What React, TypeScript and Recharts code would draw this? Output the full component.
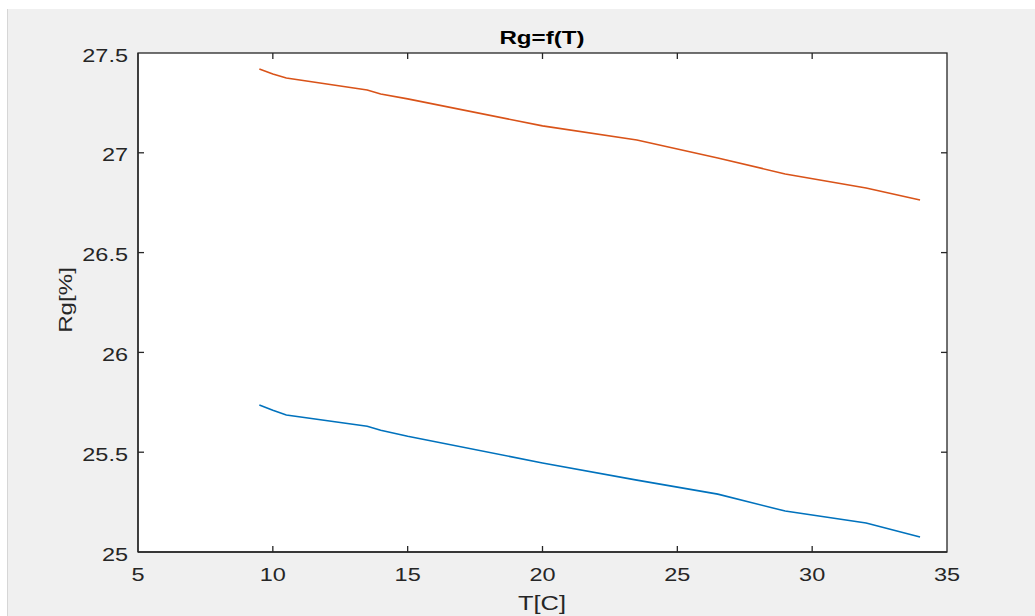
import React from 'react';
import { LineChart, Line, XAxis, YAxis } from 'recharts';

const temps = [9.5, 10, 10.5, 13.5, 14, 15, 20, 23.5, 26.5, 29, 32, 34];
const rgUpper = [27.42, 27.395, 27.375, 27.315, 27.295, 27.27, 27.135, 27.064, 26.974, 26.894, 26.824, 26.764];
const rgLower = [25.736, 25.71, 25.686, 25.63, 25.61, 25.58, 25.446, 25.36, 25.29, 25.205, 25.145, 25.075];
const xTicks = [5, 10, 15, 20, 25, 30, 35];
const yTicks = [25, 25.5, 26, 26.5, 27, 27.5];

const data = temps.map((t, i) => ({ t, upper: rgUpper[i], lower: rgLower[i] }));

const AX = '#262626';
const FONT = '"Liberation Sans", Arial, Helvetica, sans-serif';
const SX = 1.27;
const CW = 1028;
const CH = 607;
const M = { top: 44, right: 89, bottom: 24, left: 70 };
const YW = 60;
const XH = 40;
const PL = M.left + YW;
const PT = M.top;
const PW = CW - PL - M.right;
const PH = CH - PT - M.bottom - XH;
const XM = 16;
const YM = 10;
const TL = 6;
const FS = 18.5;

const XTick = (props: any) => {
  const { x, y, payload } = props;
  const isEdge = payload.value === xTicks[0] || payload.value === xTicks[xTicks.length - 1];
  return (
    <g transform={`translate(${x},${y})`}>
      {!isEdge && <line x1={0} x2={0} y1={-XM} y2={-XM - TL} stroke={AX} strokeWidth={1.3} />}
      {!isEdge && <line x1={0} x2={0} y1={-XM - PH} y2={-XM - PH + TL} stroke={AX} strokeWidth={1.3} />}
      <text transform={`scale(${SX},1)`} textAnchor="middle" dy={13.2} fontSize={FS} fill={AX} fontFamily={FONT}>
        {payload.value}
      </text>
    </g>
  );
};

const YTick = (props: any) => {
  const { x, y, payload } = props;
  const isEdge = payload.value === yTicks[0] || payload.value === yTicks[yTicks.length - 1];
  return (
    <g transform={`translate(${x},${y})`}>
      {!isEdge && <line x1={YM} x2={YM + TL} y1={0} y2={0} stroke={AX} strokeWidth={1.3} />}
      {!isEdge && <line x1={YM + PW} x2={YM + PW - TL} y1={0} y2={0} stroke={AX} strokeWidth={1.3} />}
      <text transform={`scale(${SX},1)`} textAnchor="end" dy={8.6} fontSize={FS} fill={AX} fontFamily={FONT}>
        {payload.value}
      </text>
    </g>
  );
};

export default function App() {
  return (
    <div style={{ position: 'absolute', left: 0, top: 0, width: 1035, height: 616, background: '#ffffff', overflow: 'hidden' }}>
      <div style={{ position: 'absolute', left: 7, top: 9, width: CW, height: CH, background: '#f0f0f0', borderLeft: '1px solid #d6d6d6', boxSizing: 'border-box' }}>
        <LineChart width={CW} height={CH} data={data} margin={M}>
          <rect x={PL} y={PT} width={PW} height={PH} fill="#ffffff" stroke={AX} strokeWidth={1.3} />
          <XAxis xAxisId="x" dataKey="t" type="number" domain={[5, 35]} ticks={xTicks} interval={0} allowDataOverflow
            orientation="bottom" height={XH} tickSize={0} tickMargin={XM} tickLine={false}
            axisLine={{ stroke: AX, strokeWidth: 1.3 }} tick={<XTick />} />
          <YAxis yAxisId="y" type="number" domain={[25, 27.5]} ticks={yTicks} interval={0} allowDataOverflow
            orientation="left" width={YW} tickSize={0} tickMargin={YM} tickLine={false}
            axisLine={{ stroke: AX, strokeWidth: 1.3 }} tick={<YTick />} />
          <Line xAxisId="x" yAxisId="y" dataKey="lower" type="linear" stroke="#0072BD" strokeWidth={1.6} dot={false} isAnimationActive={false} />
          <Line xAxisId="x" yAxisId="y" dataKey="upper" type="linear" stroke="#D95319" strokeWidth={1.6} dot={false} isAnimationActive={false} />
        </LineChart>
      </div>
      <div style={{ position: 'absolute', left: 541.5, top: 37, transform: `translate(-50%,-50%) scaleX(${SX})`, fontFamily: FONT, fontWeight: 'bold', fontSize: 19, color: '#000', whiteSpace: 'nowrap', lineHeight: 1 }}>Rg=f(T)</div>
      <div style={{ position: 'absolute', left: 541.5, top: 603, transform: `translate(-50%,-50%) scaleX(${SX})`, fontFamily: FONT, fontSize: 20, color: AX, whiteSpace: 'nowrap', lineHeight: 1 }}>T[C]</div>
      <div style={{ position: 'absolute', left: 65, top: 300, transform: `translate(-50%,-50%) rotate(-90deg) scaleX(${SX})`, fontFamily: FONT, fontSize: 19, color: AX, whiteSpace: 'nowrap', lineHeight: 1 }}>Rg[%]</div>
    </div>
  );
}
